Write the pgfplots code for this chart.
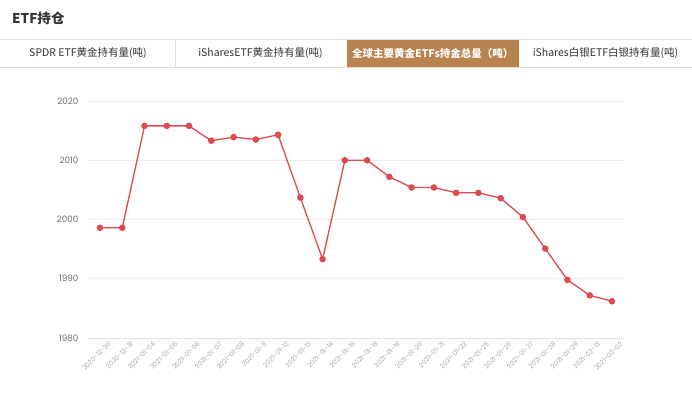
\documentclass[border=0pt]{standalone}
\usepackage{pgfplots}
\pgfplotsset{compat=1.18}
\usepackage{fontspec}
\setmainfont{Noto Sans CJK SC}
\newfontfamily\tickfont{Poppins}
\definecolor{linered}{HTML}{DD4A4F}
\definecolor{tabbrown}{HTML}{B8834F}
\definecolor{tabborder}{HTML}{E6DDD4}
\definecolor{gridc}{HTML}{EDEDED}
\definecolor{axisc}{HTML}{DDE1EA}
\definecolor{ylab}{HTML}{6E6E6E}
\definecolor{xlab}{HTML}{A8A8A8}
\definecolor{tabtext}{HTML}{333333}
\begin{document}
\begin{tikzpicture}[x=1pt,y=1pt]
\useasboundingbox[fill=white] (0,0) rectangle (692,399);
\node[anchor=west, inner sep=0pt, font=\fontsize{13.5}{15}\selectfont\bfseries, text=tabtext] at (12,381) {ETF持仓};
\fill[tabbrown] (346.5,331.5) rectangle (519,359.5);
\draw[tabborder, line width=0.8pt] (0,359.5) -- (692,359.5);
\draw[tabborder, line width=0.8pt] (0,331.5) -- (692,331.5);
\draw[tabborder, line width=0.8pt] (175,331.5) -- (175,359.5);
\node[font=\fontsize{10.5}{12}\selectfont, text=tabtext] at (88,345.5) {SPDR ETF黄金持有量(吨)};
\node[font=\fontsize{10.5}{12}\selectfont, text=tabtext] at (260.5,345.5) {iSharesETF黄金持有量(吨)};
\node[font=\fontsize{10.5}{12}\selectfont\bfseries, text=white] at (432.75,345.5) {全球主要黄金ETFs持金总量（吨）};
\node[font=\fontsize{10.5}{12}\selectfont, text=tabtext] at (605.5,345.5) {iShares白银ETF白银持有量(吨)};
\begin{axis}[
  at={(88pt,61pt)}, anchor=south west, scale only axis,
  width=536pt, height=237pt,
  xmin=-0.54, xmax=23.54, ymin=1980, ymax=2020,
  ytick={1990,2000,2010,2020},
  extra y ticks={1980}, extra y tick labels={1980},
  extra y tick style={grid style={color=axisc, line width=0.9pt}},
  axis line style={draw=none},
  ymajorgrids, grid style={color=gridc, line width=0.7pt},
  major tick length=0pt,
  /pgf/number format/1000 sep={},
  /pgf/number format/assume math mode=true,
  yticklabel style={font=\tickfont\fontsize{8.8}{9}\selectfont, text=ylab, anchor=east, xshift=-6pt},
  xtick={0,...,23},
  xticklabels={2020-12-30,2020-12-31,2021-01-04,2021-01-05,2021-01-06,2021-01-07,2021-01-08,2021-01-11,2021-01-12,2021-01-13,2021-01-14,2021-01-15,2021-01-18,2021-01-19,2021-01-20,2021-01-21,2021-01-22,2021-01-25,2021-01-26,2021-01-27,2021-01-28,2021-01-29,2021-02-01,2021-02-02},
  xticklabel style={font=\tickfont\fontsize{6.6}{7}\selectfont, text=xlab, rotate=45, anchor=north east, inner sep=0.5pt, xshift=4pt, yshift=-7pt},
  clip=false,
]
\addplot[color=linered, line width=1.3pt, mark=*, mark size=2.6pt, mark options={fill=linered, draw=linered}] coordinates {
(0,1998.6) (1,1998.6) (2,2015.8) (3,2015.8) (4,2015.8) (5,2013.3) (6,2013.9) (7,2013.5)
(8,2014.3) (9,2003.7) (10,1993.3) (11,2010.0) (12,2010.0) (13,2007.2) (14,2005.4) (15,2005.4)
(16,2004.5) (17,2004.5) (18,2003.6) (19,2000.4) (20,1995.1) (21,1989.8) (22,1987.2) (23,1986.2)
};
\end{axis}
\end{tikzpicture}
\end{document}
